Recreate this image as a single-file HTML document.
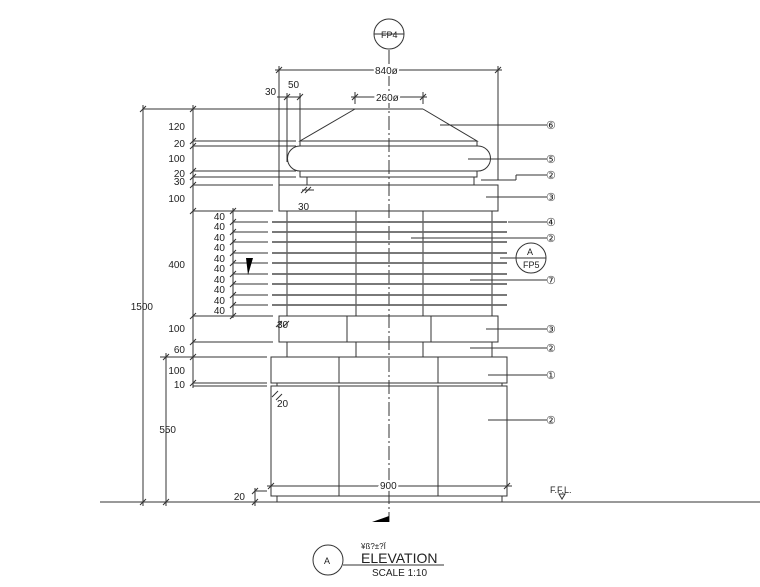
<!DOCTYPE html>
<html><head><style>
html,body{margin:0;padding:0;background:#fff;width:760px;height:587px;overflow:hidden}
svg{display:block}
text{font-family:"Liberation Sans",sans-serif;fill:#222}
</style></head><body>
<svg width="760" height="587" viewBox="0 0 760 587" xmlns="http://www.w3.org/2000/svg">
<g stroke="#333" stroke-width="1" fill="none">
<line x1="100" y1="502" x2="760" y2="502"/>
<line x1="389" y1="50" x2="389" y2="522" stroke-dasharray="14,3,2,3"/>
<circle cx="389" cy="34" r="15"/><line x1="374" y1="34" x2="404" y2="34"/>
<line x1="275" y1="70" x2="502" y2="70"/>
<line x1="279" y1="66" x2="279" y2="185"/><line x1="498" y1="66" x2="498" y2="180"/>
<line x1="351" y1="97" x2="427" y2="97"/>
<line x1="355" y1="92" x2="355" y2="104"/><line x1="423" y1="92" x2="423" y2="104"/>
<line x1="277" y1="97" x2="301" y2="97"/><line x1="287" y1="93" x2="287" y2="162"/><line x1="300" y1="93" x2="300" y2="141"/>
<line x1="143" y1="109" x2="423" y2="109"/>
<polyline points="355,109 300,141 477,141 423,109"/>
<line x1="300" y1="141" x2="300" y2="146"/><line x1="477" y1="141" x2="477" y2="146"/>
<path d="M300,146 H478 A12.5,12.5 0 0 1 478,171 H300 A12.5,12.5 0 0 1 300,146 Z"/>
<rect x="300" y="171" width="177" height="6"/>
<line x1="307" y1="177" x2="307" y2="185"/><line x1="474" y1="177" x2="474" y2="185"/>
<line x1="481" y1="180" x2="516" y2="180"/><line x1="516" y1="175" x2="516" y2="180"/>
<rect x="279" y="185" width="219" height="26"/>
<line x1="287" y1="211" x2="287" y2="316"/><line x1="356" y1="211" x2="356" y2="316"/>
<line x1="423" y1="211" x2="423" y2="316"/><line x1="492" y1="211" x2="492" y2="316"/>
</g>
<g stroke="#666" stroke-width="1.8">
<line x1="272" y1="222" x2="507" y2="222"/><line x1="272" y1="232" x2="507" y2="232"/>
<line x1="272" y1="242" x2="507" y2="242"/><line x1="272" y1="253" x2="507" y2="253"/>
<line x1="272" y1="263" x2="507" y2="263"/><line x1="272" y1="274" x2="507" y2="274"/>
<line x1="272" y1="284" x2="507" y2="284"/><line x1="272" y1="295" x2="507" y2="295"/>
<line x1="272" y1="305" x2="507" y2="305"/>
</g>
<g stroke="#333" stroke-width="1" fill="none">
<rect x="279" y="316" width="219" height="26"/>
<line x1="347" y1="316" x2="347" y2="342"/><line x1="431" y1="316" x2="431" y2="342"/>
<line x1="287" y1="342" x2="287" y2="357"/><line x1="356" y1="342" x2="356" y2="357"/>
<line x1="423" y1="342" x2="423" y2="357"/><line x1="492" y1="342" x2="492" y2="357"/>
<rect x="271" y="357" width="236" height="26"/>
<line x1="339" y1="357" x2="339" y2="383"/><line x1="438" y1="357" x2="438" y2="383"/>
<line x1="277" y1="383" x2="277" y2="386"/><line x1="502" y1="383" x2="502" y2="386"/>
<rect x="271" y="386" width="236" height="110"/>
<line x1="339" y1="386" x2="339" y2="496"/><line x1="438" y1="386" x2="438" y2="496"/>
<line x1="277" y1="496" x2="277" y2="502"/><line x1="502" y1="496" x2="502" y2="502"/>
<line x1="267" y1="486" x2="512" y2="486"/>
<line x1="143" y1="105" x2="143" y2="506"/>
<line x1="166" y1="353" x2="166" y2="506"/>
<line x1="193" y1="105" x2="193" y2="388"/>
<line x1="233" y1="208" x2="233" y2="318"/>
<line x1="193" y1="141" x2="296" y2="141"/><line x1="193" y1="146" x2="296" y2="146"/>
<line x1="193" y1="171" x2="296" y2="171"/><line x1="193" y1="177" x2="296" y2="177"/>
<line x1="193" y1="185" x2="273" y2="185"/><line x1="193" y1="211" x2="273" y2="211"/>
<line x1="233" y1="222" x2="268" y2="222"/><line x1="233" y1="232" x2="268" y2="232"/>
<line x1="233" y1="242" x2="268" y2="242"/><line x1="233" y1="253" x2="268" y2="253"/>
<line x1="233" y1="263" x2="268" y2="263"/><line x1="233" y1="274" x2="268" y2="274"/>
<line x1="233" y1="284" x2="268" y2="284"/><line x1="233" y1="295" x2="268" y2="295"/>
<line x1="233" y1="305" x2="268" y2="305"/>
<line x1="193" y1="316" x2="273" y2="316"/><line x1="193" y1="342" x2="273" y2="342"/>
<line x1="160" y1="357" x2="267" y2="357"/><line x1="193" y1="383" x2="267" y2="383"/><line x1="193" y1="386" x2="267" y2="386"/>
<line x1="255" y1="491" x2="267" y2="491"/><line x1="255" y1="488" x2="255" y2="506"/>
<line x1="440" y1="125" x2="547" y2="125"/><line x1="468" y1="159" x2="547" y2="159"/>
<line x1="516" y1="175" x2="547" y2="175"/><line x1="486" y1="197" x2="547" y2="197"/>
<line x1="508" y1="222" x2="547" y2="222"/><line x1="411" y1="238" x2="547" y2="238"/>
<line x1="470" y1="280" x2="547" y2="280"/><line x1="486" y1="329" x2="547" y2="329"/>
<line x1="470" y1="348" x2="547" y2="348"/><line x1="488" y1="375" x2="547" y2="375"/>
<line x1="488" y1="420" x2="547" y2="420"/>
<line x1="500" y1="258" x2="531" y2="258"/>
<circle cx="531" cy="258" r="15"/><line x1="516" y1="258" x2="546" y2="258"/>
<polygon points="559,494 565,494 562,499"/>
<circle cx="328" cy="560" r="15"/><line x1="343" y1="565" x2="444" y2="565"/>
</g>
<g stroke="#333" stroke-width="1">
<path d="M140,112 l6,-6 M190,112 l6,-6 M190,144 l6,-6 M190,149 l6,-6 M190,174 l6,-6 M190,180 l6,-6 M190,188 l6,-6 M190,214 l6,-6 M190,319 l6,-6 M190,345 l6,-6 M190,360 l6,-6 M163,360 l6,-6 M190,386 l6,-6 M140,505 l6,-6 M163,505 l6,-6 M252,494 l6,-6 M252,505 l6,-6 M276,73 l6,-6 M495,73 l6,-6 M352,100 l6,-6 M420,100 l6,-6 M284,100 l6,-6 M297,100 l6,-6 M268,489 l6,-6 M504,489 l6,-6"/>
<path d="M230,214 l6,-6 M230,225 l6,-6 M230,235 l6,-6 M230,245 l6,-6 M230,256 l6,-6 M230,266 l6,-6 M230,277 l6,-6 M230,287 l6,-6 M230,298 l6,-6 M230,308 l6,-6 M230,319 l6,-6"/>
<path d="M301,193 l6,-6 M305,193 l6,-6 M302,190 h12 M276,327 l6,-6 M283,327 l6,-6 M272,397 l6,-6 M276,400 l6,-6"/>
</g>
<polygon points="246,258 253,258 248,275" fill="#000"/>
<polygon points="372,522 389,516 389,522" fill="#000"/>
<g font-size="10" fill="#333">
<text x="381" y="38" font-size="9">FP4</text>
<text x="375" y="74" fill="#333" stroke="#fff" stroke-width="4" paint-order="stroke">840ø</text>
<text x="376" y="101" stroke="#fff" stroke-width="4" paint-order="stroke">260ø</text>
<text x="265" y="95">30</text><text x="288" y="88">50</text>
<text x="185" y="130" text-anchor="end" font-size="10">120</text>
<text x="185" y="147" text-anchor="end">20</text>
<text x="185" y="162" text-anchor="end">100</text>
<text x="185" y="177" text-anchor="end">20</text>
<text x="185" y="185" text-anchor="end">30</text>
<text x="185" y="202" text-anchor="end">100</text>
<text x="298" y="210">30</text>
<text x="225" y="220" text-anchor="end">40</text><text x="225" y="230" text-anchor="end">40</text>
<text x="225" y="241" text-anchor="end">40</text><text x="225" y="251" text-anchor="end">40</text>
<text x="225" y="262" text-anchor="end">40</text><text x="225" y="272" text-anchor="end">40</text>
<text x="225" y="283" text-anchor="end">40</text><text x="225" y="293" text-anchor="end">40</text>
<text x="225" y="304" text-anchor="end">40</text><text x="225" y="314" text-anchor="end">40</text>
<text x="185" y="268" text-anchor="end">400</text>
<text x="153" y="310" text-anchor="end">1500</text>
<text x="185" y="332" text-anchor="end">100</text>
<text x="277" y="328">30</text>
<text x="185" y="353" text-anchor="end">60</text>
<text x="185" y="374" text-anchor="end">100</text>
<text x="185" y="388" text-anchor="end">10</text>
<text x="277" y="407">20</text>
<text x="176" y="433" text-anchor="end">550</text>
<text x="380" y="489" stroke="#fff" stroke-width="4" paint-order="stroke">900</text>
<text x="245" y="500" text-anchor="end">20</text>
<text x="550" y="493" font-size="9">F.F.L.</text>
<text x="527" y="255" font-size="9">A</text><text x="523" y="268" font-size="9">FP5</text>
<text x="324" y="564" font-size="9">A</text>
<text x="361" y="549" font-size="8">¥ß?±?Ï</text>
<text x="361" y="563" font-size="14" fill="#000">ELEVATION</text>
<text x="372" y="576" font-size="10">SCALE 1:10</text>
</g>
<g font-size="11" fill="#333" font-family="DejaVu Sans,sans-serif">
<text x="546" y="129">⑥</text><text x="546" y="163">⑤</text><text x="546" y="179">②</text>
<text x="546" y="201">③</text><text x="546" y="226">④</text><text x="546" y="242">②</text>
<text x="546" y="284">⑦</text><text x="546" y="333">③</text><text x="546" y="352">②</text>
<text x="546" y="379">①</text><text x="546" y="424">②</text>
</g>
</svg>
</body></html>
